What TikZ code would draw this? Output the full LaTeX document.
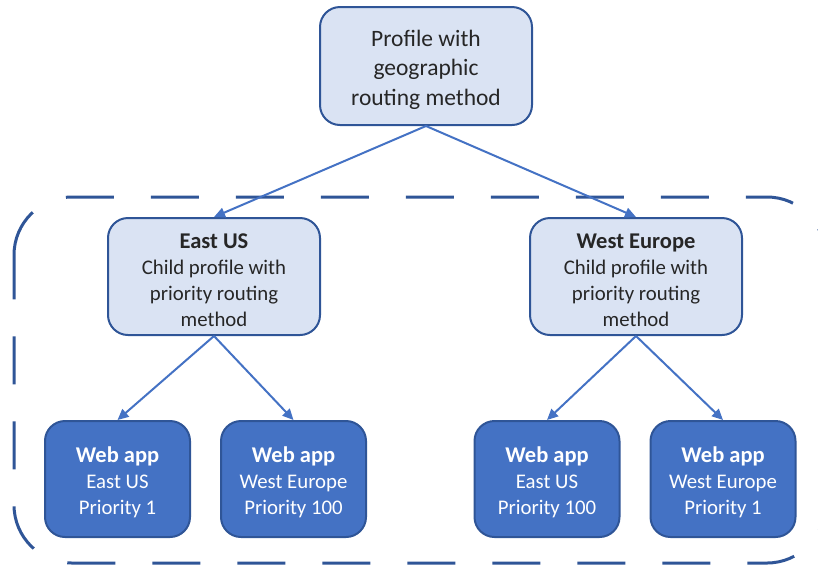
\documentclass[tikz,border=0pt]{standalone}
\usepackage{fontspec}
\setmainfont{Carlito}
\usetikzlibrary{arrows.meta}
\definecolor{lightfill}{HTML}{DAE3F3}
\definecolor{darkborder}{HTML}{2F5597}
\definecolor{midblue}{HTML}{4472C4}
\definecolor{txt}{HTML}{262626}
\newcommand{\firstgap}[1]{\rule{0pt}{#1}}
\newcommand{\ttlfont}{\bfseries\fontsize{22.5}{26}\selectfont}
\begin{document}
\begin{tikzpicture}[x=1pt,y=-1pt,
  profbox/.style={draw=darkborder, line width=2pt, fill=lightfill, rounded corners=20pt,
    text=txt, align=center, inner sep=0pt, minimum width=212pt, minimum height=117pt,
    font=\fontsize{20.8}{26}\selectfont},
  topbox/.style={profbox, minimum height=118pt, font=\fontsize{23.5}{29.5}\selectfont},
  appbox/.style={draw=darkborder, line width=2pt, fill=midblue, rounded corners=20pt,
    text=white, align=center, minimum width=145pt, minimum height=116pt, inner sep=0pt,
    font=\fontsize{20.8}{26}\selectfont},
  link/.style={draw=midblue, line width=2pt, -{Triangle[length=11pt,width=10pt]}},
  region/.style={draw=darkborder, line width=3pt, dash pattern=on 48pt off 37pt, rounded corners=58pt}]
\useasboundingbox (0,0) rectangle (818,566);
\clip (0,0) rectangle (818,566);
% dashed region (starts at the top-left corner, runs clockwise)
\coordinate (r0) at (14,255);
\coordinate (r1) at (14,197);
\coordinate (r2) at (825,197);
\coordinate (r3) at (825,563);
\coordinate (r4) at (14,563);
\draw[region] (r0) -- (r1) -- (r2) -- (r3) -- (r4) -- (r0);
% nodes
\node[topbox] (top) at (426,66) {\firstgap{23.5pt}Profile with\\geographic\\routing method};
\node[profbox] (east) at (214,276.5) {{\ttlfont\firstgap{22.5pt}East US}\\Child profile with\\priority routing\\method};
\node[profbox] (west) at (636,276.5) {{\ttlfont\firstgap{22.5pt}West Europe}\\Child profile with\\priority routing\\method};
\node[appbox] (w1) at (117.5,479) {{\ttlfont\firstgap{22.5pt}Web app}\\East US\\Priority 1};
\node[appbox] (w2) at (293.5,479) {{\ttlfont\firstgap{22.5pt}Web app}\\West Europe\\Priority 100};
\node[appbox] (w3) at (547,479) {{\ttlfont\firstgap{22.5pt}Web app}\\East US\\Priority 100};
\node[appbox] (w4) at (723,479) {{\ttlfont\firstgap{22.5pt}Web app}\\West Europe\\Priority 1};
% connectors
\draw[link] (top.south) -- (east.north);
\draw[link] (top.south) -- (west.north);
\draw[link] (east.south) -- (w1.north);
\draw[link] (east.south) -- (w2.north);
\draw[link] (west.south) -- (w3.north);
\draw[link] (west.south) -- (w4.north);
\end{tikzpicture}
\end{document}
